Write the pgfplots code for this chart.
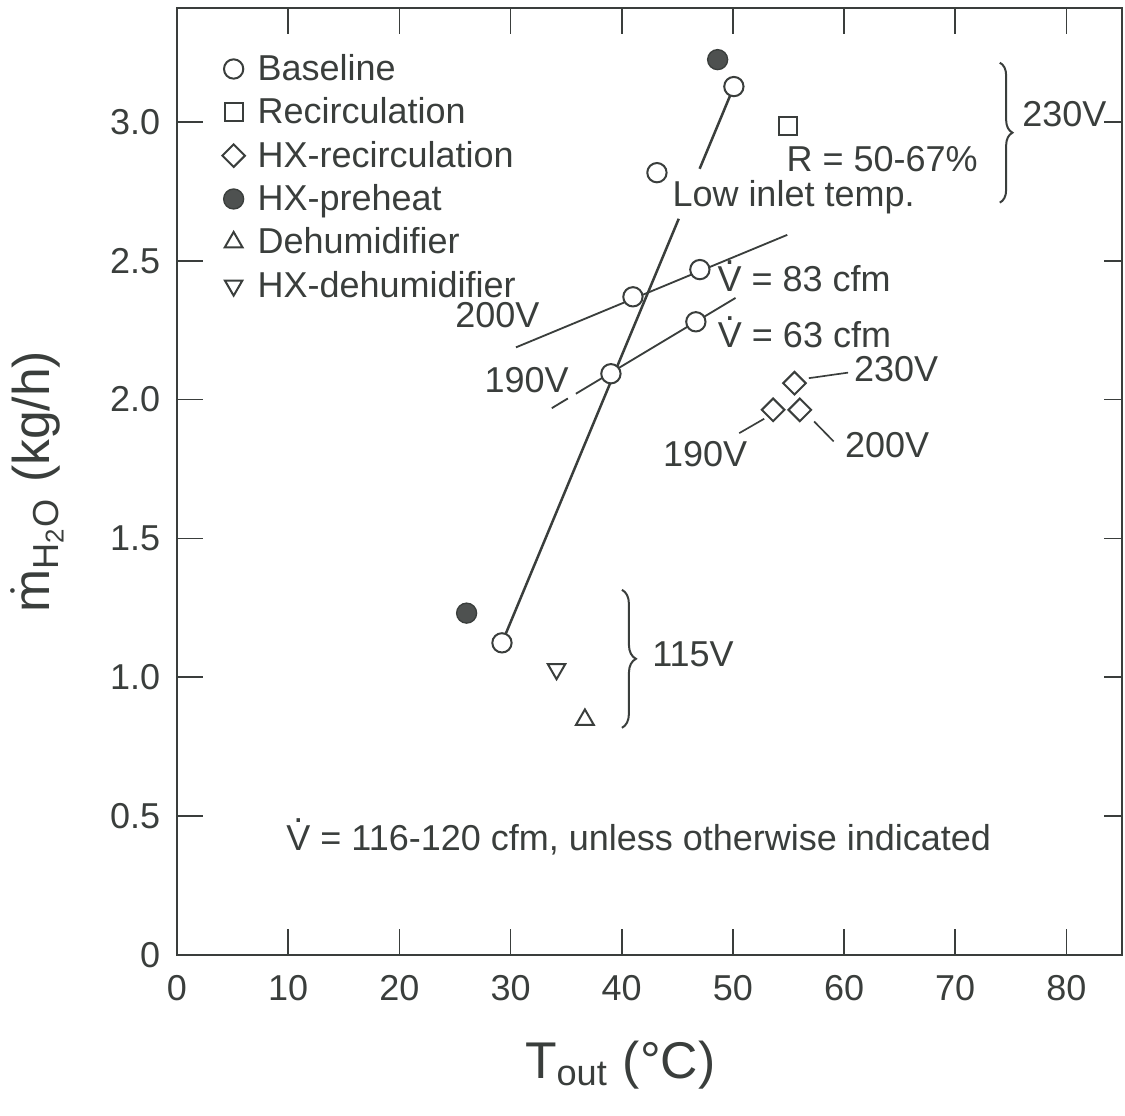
\documentclass[border=0pt]{standalone}
\usepackage{fontspec}
\setmainfont{Liberation Sans}
\usepackage{amsmath}
\usepackage{pgfplots}
\pgfplotsset{compat=1.18}
\usetikzlibrary{decorations.pathreplacing}

\definecolor{ink}{RGB}{58,62,60}
\newcommand{\lblfont}{\fontsize{10.8}{13}\selectfont}
\newcommand{\labfont}{\fontsize{15.5}{18}\selectfont}
% V with a dot above (volume flow)
\newcommand{\Vd}{\leavevmode\rlap{\hbox to \fontcharwd\font`V{\hss\raisebox{0.76em}{.}\hss}}V}

\begin{document}
\begin{tikzpicture}
\path[use as bounding box] (-53.1pt,-48.3pt) rectangle (284.4pt,286.5pt);
\begin{axis}[
    at={(0pt,0pt)}, anchor=south west,
    scale only axis,
    width=283.5pt, height=284.1pt,
    xmin=0, xmax=85,
    ymin=0, ymax=3.41,
    axis line style={ink, line width=0.75pt},
    tick style={ink, line width=0.5pt},
    major tick length=7.8pt,
    tick align=inside,
    ytick pos=left,
    xtick={0,10,20,30,40,50,60,70,80},
    ytick={0,0.5,1.0,1.5,2.0,2.5,3.0},
    yticklabels={0,0.5,1.0,1.5,2.0,2.5,3.0},
    /pgf/number format/assume math mode=true,
    ticklabel style={font=\lblfont, text=ink},
    yticklabel style={xshift=-1.5pt},
    xticklabel style={yshift=-2.5pt},
    every axis x label/.style={at={(axis description cs:0.469,0)}, anchor=base, yshift=-37pt, font=\labfont, text=ink},
    every axis y label/.style={at={(axis description cs:-0.148,0.5)}, anchor=center, rotate=90, font=\labfont, text=ink},
    xlabel={T\textsubscript{out} (°C)},
    ylabel={$\dot{\text{m}}_{\text{H}_{\text{2}}\text{O}}$ (kg/h)},
    legend style={at={(axis description cs:0,1)}, anchor=north west,
        xshift=13.4pt, yshift=-13.1pt, draw=none, fill=none, inner sep=0pt,
        row sep=3pt, column sep=3.8pt, font=\lblfont, text=ink,
        nodes={inner sep=0pt, text height=8.5pt, text depth=1.5pt}},
    legend cell align=left,
    legend image code/.code={\draw[#1] plot coordinates {(0pt,0pt)};},
]

% fitted lines (drawn first, marks go on top)
\addplot[ink, line width=0.75pt, forget plot] coordinates {(29.23,1.124) (45.13,2.651)};
\addplot[ink, line width=0.75pt, forget plot] coordinates {(47.01,2.831) (50.09,3.127)};
\addplot[ink, line width=0.55pt, forget plot] coordinates {(30.49,2.188) (54.89,2.593)};
\addplot[ink, line width=0.55pt, forget plot] coordinates {(33.71,1.969) (35.16,2.004)};
\addplot[ink, line width=0.55pt, forget plot] coordinates {(35.88,2.021) (50.24,2.366)};
% leaders for the HX-recirculation labels
\addplot[ink, line width=0.5pt, forget plot] coordinates {(56.83,2.077) (60.36,2.097)};
\addplot[ink, line width=0.5pt, forget plot] coordinates {(50.57,1.879) (52.82,1.931)};
\addplot[ink, line width=0.5pt, forget plot] coordinates {(57.31,1.921) (59.07,1.849)};

\addplot[only marks, mark=*, mark size=2.9pt, mark options={draw=ink, fill=white, line width=0.6pt}] coordinates {
(29.23,1.124) (39.03,2.093) (41.01,2.370) (47.03,2.468) (46.67,2.280) (43.17,2.817) (50.09,3.127)
};
\addlegendentry{Baseline}

\addplot[only marks, mark=square*, mark size=2.7pt, mark options={draw=ink, fill=white, line width=0.6pt}] coordinates {
(54.96,2.986)
};
\addlegendentry{Recirculation}

\addplot[only marks, mark=square*, mark size=2.4pt, mark options={rotate=45, draw=ink, fill=white, line width=0.6pt}] coordinates {
(55.54,2.059) (53.62,1.963) (56.02,1.963)
};
\addlegendentry{HX-recirculation}

\addplot[only marks, mark=*, mark size=3pt, mark options={draw=ink, fill=ink!90, line width=0.4pt}] coordinates {
(48.63,3.224) (26.05,1.231)
};
\addlegendentry{HX-preheat}

\addplot[only marks, mark=triangle*, mark size=3.1pt, mark options={draw=ink, fill=white, line width=0.6pt}] coordinates {
(36.69,0.847)
};
\addlegendentry{Dehumidifier}

\addplot[only marks, mark=triangle*, mark size=3pt, mark options={rotate=180, draw=ink, fill=white, line width=0.6pt}] coordinates {
(34.14,1.029)
};
\addlegendentry{HX-dehumidifier}

\tikzset{lbl/.style={font=\lblfont, text=ink, inner sep=0pt}}
\node[lbl, anchor=base west] at (axis cs:44.51,2.695) {Low inlet temp.};
\node[lbl, anchor=base west] at (axis cs:48.56,2.388) {\Vd{} = 83 cfm};
\node[lbl, anchor=base west] at (axis cs:48.60,2.187) {\Vd{} = 63 cfm};
\node[lbl, anchor=base west] at (axis cs:54.77,2.821) {R = 50-67\%};
\node[lbl, anchor=base west] at (axis cs:75.97,2.984) {230V};
\node[lbl, anchor=base west] at (axis cs:24.98,2.259) {200V};
\node[lbl, anchor=base west] at (axis cs:27.60,2.025) {190V};
\node[lbl, anchor=base west] at (axis cs:60.85,2.065) {230V};
\node[lbl, anchor=base west] at (axis cs:43.66,1.759) {190V};
\node[lbl, anchor=base west] at (axis cs:60.04,1.793) {200V};
\node[lbl, anchor=base west] at (axis cs:42.69,1.039) {115V};
\node[lbl, anchor=base east] at (axis cs:73.29,0.378) {\Vd{} = 116-120 cfm, unless otherwise indicated};

\draw[ink, line width=0.6pt, decorate, decoration={brace, amplitude=3.8pt}] (axis cs:74.01,3.213) -- (axis cs:74.01,2.709);
\draw[ink, line width=0.6pt, decorate, decoration={brace, amplitude=4.2pt}] (axis cs:40.02,1.315) -- (axis cs:40.02,0.818);
\end{axis}

% right-hand ticks are shorter in the original
\begin{axis}[
    at={(0pt,0pt)}, anchor=south west,
    scale only axis,
    width=283.5pt, height=284.1pt,
    xmin=0, xmax=85,
    ymin=0, ymax=3.41,
    hide x axis,
    axis y line*=right,
    axis line style={draw=none},
    tick style={ink, line width=0.5pt},
    major tick length=5.5pt,
    tick align=inside,
    ytick={0,0.5,1.0,1.5,2.0,2.5,3.0},
    yticklabels={},
]
\end{axis}
\end{tikzpicture}
\end{document}
